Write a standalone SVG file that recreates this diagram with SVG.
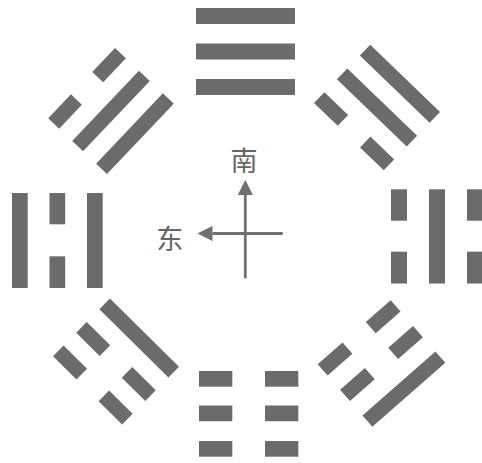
<svg xmlns="http://www.w3.org/2000/svg" width="482" height="463" viewBox="0 0 482 463">
<style>
.bar{fill:#6b6b6b}
.ax{stroke:#707070;stroke-width:2.8;fill:none}
.lbl{font-family:"Noto Sans CJK SC","Noto Sans CJK JP",sans-serif;font-size:27px;fill:#666666}
</style>
<defs>
<marker id="ah" viewBox="0 0 10 10" refX="0" refY="5" markerWidth="5.4" markerHeight="5.4" markerUnits="strokeWidth" orient="auto">
<path d="M0,0 L10,5 L0,10 Z" fill="#707070"/>
</marker>
<rect id="full" class="bar" x="-48.5" y="-7.5" width="97" height="15"/>
<g id="broken">
<rect class="bar" x="-48.5" y="-7.5" width="33" height="15"/>
<rect class="bar" x="15.5" y="-7.5" width="33" height="15"/>
</g>
</defs>
<rect width="482" height="463" fill="#ffffff"/>
<g id="qian-top">
<rect class="bar" x="196" y="8" width="99" height="16"/>
<rect class="bar" x="196" y="43.5" width="99" height="16"/>
<rect class="bar" x="196" y="79" width="99" height="16"/>
</g>
<g id="kun-bottom">
<rect class="bar" x="199" y="371" width="33.3" height="15.7"/>
<rect class="bar" x="265" y="371" width="33.3" height="15.7"/>
<rect class="bar" x="199" y="405.5" width="33.3" height="15.7"/>
<rect class="bar" x="265" y="405.5" width="33.3" height="15.7"/>
<rect class="bar" x="199" y="441" width="33.3" height="15.7"/>
<rect class="bar" x="265" y="441" width="33.3" height="15.7"/>
</g>
<g id="li-left">
<rect class="bar" x="12" y="193" width="15.7" height="95"/>
<rect class="bar" x="49.5" y="193" width="15.7" height="31.3"/>
<rect class="bar" x="49.5" y="256.3" width="15.7" height="31.7"/>
<rect class="bar" x="87" y="193" width="15.7" height="95"/>
</g>
<g id="kan-right">
<rect class="bar" x="391" y="189.3" width="16" height="31.4"/>
<rect class="bar" x="391" y="251.7" width="16" height="31.8"/>
<rect class="bar" x="429" y="189.3" width="16" height="94.2"/>
<rect class="bar" x="467" y="189.3" width="16" height="31.4"/>
<rect class="bar" x="467" y="251.7" width="16" height="31.8"/>
</g>
<g id="top-right" transform="translate(377,107.5) rotate(44)">
<use href="#full" y="-33"/>
<use href="#full"/>
<use href="#broken" y="33"/>
</g>
<g id="top-left" transform="translate(111,111) rotate(-46.5)">
<use href="#broken" y="-33"/>
<use href="#full"/>
<use href="#full" y="33"/>
</g>
<g id="bottom-left" transform="translate(116,361.5) rotate(224.6)">
<use href="#broken" y="-33"/>
<use href="#broken"/>
<use href="#full" y="33"/>
</g>
<g id="bottom-right" transform="translate(381.5,363.5) rotate(138.8)">
<use href="#full" y="-34"/>
<use href="#broken"/>
<use href="#broken" y="34"/>
</g>
<g id="connectors">
<line class="ax" x1="245.3" y1="278.3" x2="245.3" y2="195" marker-end="url(#ah)"/>
<line class="ax" x1="282.7" y1="233.5" x2="212.5" y2="233.5" marker-end="url(#ah)"/>
</g>
<g id="label-south"><text class="lbl" x="244" y="171" text-anchor="middle">南</text></g>
<g id="label-east"><text class="lbl" x="169.7" y="249" text-anchor="middle">东</text></g>
</svg>
